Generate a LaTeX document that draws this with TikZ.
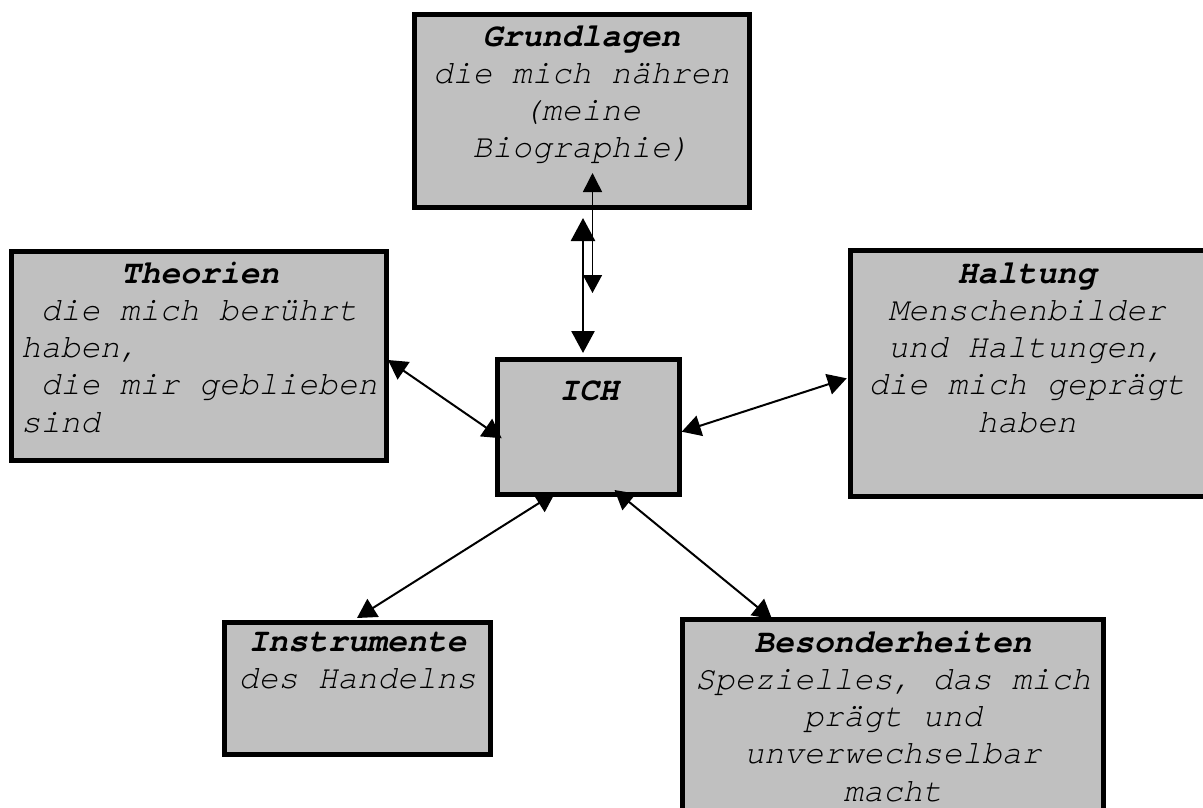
\documentclass[tikz,border=0pt]{standalone}
\usepackage{fontspec}
\setmainfont{texgyrecursor}[Extension=.otf,UprightFont=*-regular,ItalicFont=*-italic,BoldFont=*-bold,BoldItalicFont=*-bolditalic]
\usetikzlibrary{arrows.meta,calc}
\definecolor{boxgray}{RGB}{192,192,192}
\begin{document}
\begin{tikzpicture}[x=1pt,y=-1pt,
  box/.style={draw=black,fill=boxgray,line width=5pt,inner sep=0pt,outer sep=0pt,anchor=north west},
  txt/.style={inner sep=0pt,outer sep=0pt,anchor=base,text=black,font=\fontsize{33}{37.3}\selectfont\itshape},
  link/.style={line width=2pt,{Triangle[length=19pt,width=21pt]}-{Triangle[length=19pt,width=21pt]}},
  thicklink/.style={line width=2.7pt,{Triangle[length=23pt,width=24pt]}-{Triangle[length=22pt,width=23pt]}},
  thinlink/.style={line width=1.5pt,{Triangle[length=19pt,width=19pt]}-{Triangle[length=18pt,width=19pt]}}]
\useasboundingbox (0,0) rectangle (1203,807);
\clip (0,0) rectangle (1203,807);
% boxes
\node[box,minimum width=335pt,minimum height=193.5pt] (grund) at (414,14) {};
\node[box,minimum width=374.7pt,minimum height=209pt] (theo) at (11.3,251.5) {};
\node[box,minimum width=182pt,minimum height=135pt] (ich) at (497.5,359.5) {};
\node[box,minimum width=354.5pt,minimum height=245.5pt] (halt) at (850.5,250.5) {};
\node[box,minimum width=266pt,minimum height=132pt] (inst) at (224.5,622.5) {};
\node[box,minimum width=420.5pt,minimum height=210pt] (beso) at (682.5,619.5) {};
% texts
\node[txt] (gtext) at (581.5,46) {\parbox[t]{320pt}{\centering{\bfseries Grundlagen}\\die mich nähren\\(meine\\Biographie)}};
\node[txt,anchor=base west] (ttext) at (21,283) {\parbox[t]{358pt}{\centering{\bfseries Theorien}\par\raggedright\hphantom{x}die mich berührt\\haben,\\\hphantom{x}die mir geblieben\\sind}};
\node[txt] (itext) at (589,400) {\bfseries ICH};
\node[txt] (htext) at (1027,283) {\parbox[t]{340pt}{\centering{\bfseries Haltung}\\Menschenbilder\\und Haltungen,\\die mich geprägt\\haben}};
\node[txt] (intext) at (357.5,651) {\parbox[t]{250pt}{\centering{\bfseries Instrumente}\\des Handelns}};
\node[txt] (btext) at (893,652) {\parbox[t]{410pt}{\centering{\bfseries Besonderheiten}\\Spezielles, das mich\\prägt und\\unverwechselbar\\macht}};
% connectors
\coordinate (gfree) at ($(grund.south west)+(178.5,85.5)$);
\draw[thinlink] ($(grund.south west)+(178.5,-34.5)$) -- (gfree);
\draw[thicklink] ($(grund.south west)+(169,10.5)$) -- ($(ich.north west)+(85.5,-6.5)$);
\draw[link] ($(theo.north east)+(2,108.5)$) -- ($(ich.north west)+(4.2,78.8)$);
\draw[link] ($(halt.north west)+(-3.8,127.8)$) -- ($(ich.north east)+(2.2,72.2)$);
\draw[link] ($(ich.south west)+(57.5,-1.5)$) -- ($(inst.north west)+(132.5,-4.5)$);
\draw[link] ($(ich.south west)+(117,-4.5)$) -- ($(beso.north west)+(89.5,-0.5)$);
\end{tikzpicture}
\end{document}
